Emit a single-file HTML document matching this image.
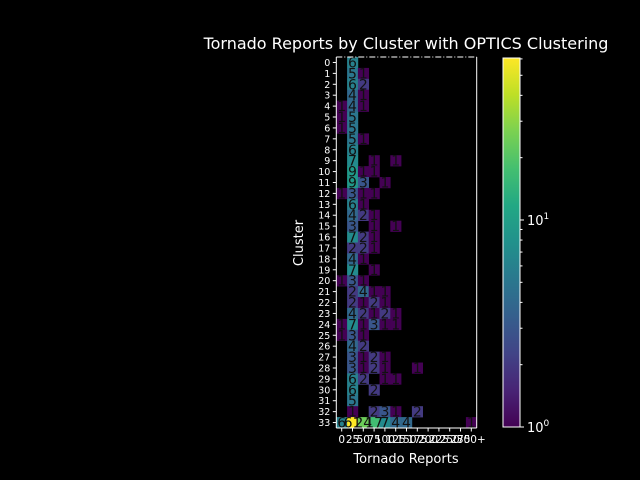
<!DOCTYPE html>
<html><head><meta charset="utf-8"><style>
html,body{margin:0;padding:0;background:#000;}
svg{display:block;font-family:"DejaVu Sans","Liberation Sans",sans-serif;}
</style></head><body>
<svg id="chart" width="640" height="480" viewBox="0 0 640 480">
<rect width="640" height="480" fill="#000"/>
<text x="406" y="49" fill="#fff" font-size="16" text-anchor="middle">Tornado Reports by Cluster with OPTICS Clustering</text>
<text x="406" y="463" fill="#fff" font-size="13" text-anchor="middle">Tornado Reports</text>
<text x="303" y="243" fill="#fff" font-size="13" text-anchor="middle" transform="rotate(-90 303 243)">Cluster</text>
<g id="cells"></g>
<g id="axes"></g>
<g id="cbar"></g>
</svg>
<script>
const categories = ["0","25","50","75","100","125","150","175","200","225","250","275","300+"];
const clusters = Array.from({length:34},(_, i)=>String(i));
// sparse cell values: [row, col, count]
const rowCols = [
[[1,6]],[[1,5],[2,1]],[[1,6],[2,2]],[[1,4],[2,1]],[[0,1],[1,4],[2,1]],
[[0,1],[1,5]],[[0,1],[1,5]],[[1,5],[2,1]],[[1,6]],[[1,7],[3,1],[5,1]],
[[1,9],[2,1],[3,1]],[[1,9],[2,3],[4,1]],[[0,1],[1,3],[2,1],[3,1]],[[1,6],[2,1]],[[1,4],[2,2],[3,1]],
[[1,3],[3,1],[5,1]],[[1,7],[2,2],[3,1]],[[1,2],[2,2],[3,1]],[[1,4],[2,1]],[[1,7],[3,1]],
[[0,1],[1,3],[2,1]],[[1,2],[2,4],[3,1],[4,1]],[[1,2],[2,1],[3,2],[4,1]],[[1,4],[2,2],[3,1],[4,2],[5,1]],[[0,1],[1,7],[2,1],[3,3],[4,1],[5,1]],
[[0,1],[1,3],[2,1]],[[1,4],[2,2]],[[1,3],[2,1],[3,2],[4,1]],[[1,3],[2,1],[3,2],[4,1],[7,1]],[[1,6],[2,2],[4,1],[5,1]],
[[1,6],[3,2]],[[1,5]],[[1,1],[3,2],[4,3],[5,1],[7,2]],[[0,6],[1,61],[2,24],[3,17],[4,7],[5,4],[6,4],[12,1]]
];
const cbTicks = [1,10];
const vmin=1, vmax=60.6;
const X0=336.3, X1=476.7, Y0=57, Y1=428;
const cw=(X1-X0)/categories.length, rh=(Y1-Y0)/clusters.length;
const xPos=c=>X0+c*cw, yPos=r=>Y0+r*rh;
const NS="http://www.w3.org/2000/svg";
const vir=[[68,1,84],[72,36,117],[65,68,135],[53,95,141],[42,120,142],[33,145,140],[34,168,132],[68,191,112],[122,209,81],[189,223,38],[253,231,37]];
function color(v){let t=Math.log(v/vmin)/Math.log(vmax/vmin);t=Math.max(0,Math.min(1,t));const p=t*(vir.length-1),i=Math.min(Math.floor(p),vir.length-2),f=p-i;const c=vir[i].map((a,k)=>Math.round(a+(vir[i+1][k]-a)*f));return `rgb(${c})`;}
function mk(tag,attrs,parent){const e=document.createElementNS(NS,tag);for(const k in attrs)e.setAttribute(k,attrs[k]);parent.appendChild(e);return e;}
const cells=document.getElementById('cells');
rowCols.forEach((row,r)=>row.forEach(([c,v])=>{
  const rc=mk('rect',{x:xPos(c),y:yPos(r),width:cw+0.3,height:rh+0.3,fill:color(v)},cells);
  
  
}));
rowCols.forEach((row,r)=>row.forEach(([c,v])=>{
  const t=mk('text',{x:xPos(c)+cw/2,y:yPos(r)+rh/2+5,'font-size':14,'text-anchor':'middle',fill:'#111'},cells);
  t.textContent=v;
  
  
}));
const ax=document.getElementById('axes');
mk('line',{x1:X0,y1:Y0,x2:X0,y2:Y1,stroke:'#fff','stroke-width':1},ax);
mk('line',{x1:X0,y1:Y1,x2:X1,y2:Y1,stroke:'#fff','stroke-width':1},ax);
mk('line',{x1:X1,y1:Y0,x2:X1,y2:Y1,stroke:'#fff','stroke-width':1},ax);
mk('line',{x1:X0,y1:Y0,x2:X1,y2:Y0,stroke:'#fff','stroke-width':1,'stroke-dasharray':'6,2,1,2'},ax);
clusters.forEach((l,r)=>{
  const y=yPos(r)+rh/2;
  mk('line',{x1:X0-3.5,y1:y,x2:X0,y2:y,stroke:'#fff'},ax);
  const t=mk('text',{x:X0-6,y:y+3.5,'font-size':9.5,'text-anchor':'end',fill:'#fff'},ax);
  t.textContent=l;
  
  
});
categories.forEach((l,c)=>{
  const x=xPos(c)+cw/2;
  mk('line',{x1:x,y1:Y1,x2:x,y2:Y1+3.5,stroke:'#fff'},ax);
  const t=mk('text',{x:x,y:Y1+15,'font-size':10.5,'text-anchor':'middle',fill:'#fff'},ax);
  t.textContent=l;
  
  
});
const cb=document.getElementById('cbar');
const CX=503,CW=17,CT=58,CB=427;
const cbY=v=>CB-(Math.log(v/vmin)/Math.log(vmax/vmin))*(CB-CT);
const defs=mk('defs',{},cb);
const g=mk('linearGradient',{id:'vg',x1:0,y1:1,x2:0,y2:0},defs);
vir.forEach((c,i)=>mk('stop',{offset:i/(vir.length-1),'stop-color':`rgb(${c})`},g));
mk('rect',{x:CX,y:CT,width:CW,height:CB-CT,fill:'url(#vg)',stroke:'#fff','stroke-width':1},cb);
for(let v=2;v<=60;v+=(v<10?1:10)){if(v===10)continue;const y=cbY(v);mk('line',{x1:CX+CW,y1:y,x2:CX+CW+2.5,y2:y,stroke:'#fff'},cb);}
cbTicks.forEach(v=>{
  const y=cbY(v);
  mk('line',{x1:CX+CW,y1:y,x2:CX+CW+4,y2:y,stroke:'#fff'},cb);
  const t=mk('text',{x:CX+CW+7,y:y+5,'font-size':13,fill:'#fff'},cb);
  t.innerHTML='10<tspan dy="-6" font-size="9">'+Math.round(Math.log10(v))+'</tspan>';
  
  
});
</script>
</body></html>
